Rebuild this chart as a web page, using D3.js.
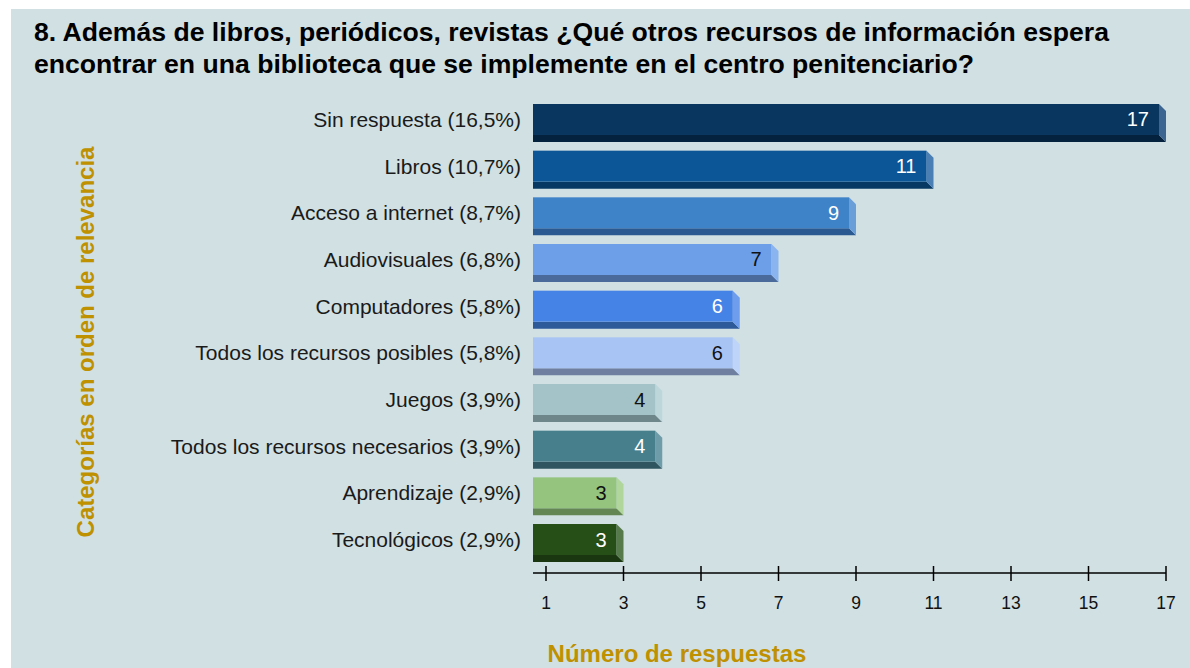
<!DOCTYPE html>
<html>
<head>
<meta charset="utf-8">
<script src="https://cdn.jsdelivr.net/npm/d3@7"></script>
<style>
  body { margin: 0; background: #fff; }
  text { font-family: "Liberation Sans", Arial, sans-serif; }
</style>
</head>
<body>
<div id="chart"></div>
<script>
// data
const categories = [
  'Sin respuesta (16,5%)',
  'Libros (10,7%)',
  'Acceso a internet (8,7%)',
  'Audiovisuales (6,8%)',
  'Computadores (5,8%)',
  'Todos los recursos posibles (5,8%)',
  'Juegos (3,9%)',
  'Todos los recursos necesarios (3,9%)',
  'Aprendizaje (2,9%)',
  'Tecnológicos (2,9%)'
];
const values = [17, 11, 9, 7, 6, 6, 4, 4, 3, 3];
const tickValues = [1, 3, 5, 7, 9, 11, 13, 15, 17];

// front / bottom / side colours and label colour per bar
const frontColors = ['#08365f', '#0c5597', '#3e82c8', '#6c9fe8', '#4683e6', '#a8c4f5', '#a3c3c9', '#477f8d', '#94c47e', '#264f17'];
const bottomColors = ['#04213d', '#073863', '#2a5890', '#4a6a9c', '#2f5a9a', '#6f7fa0', '#6e8589', '#2f5660', '#648554', '#1a3610'];
const sideColors = ['#3c6591', '#4a7fb5', '#6a9ed8', '#8ab4f0', '#6f9ded', '#bed4f8', '#bcd6da', '#6e9ca8', '#b0d69c', '#567a4a'];
const labelColors = ['#fff', '#fff', '#fff', '#111', '#fff', '#111', '#111', '#fff', '#111', '#fff'];

const W = 1190, H = 668;
const depth = 7;
const plotLeft = 533;

const svg = d3.select('#chart').append('svg')
  .attr('width', W)
  .attr('height', H);

svg.append('rect')
  .attr('x', 11).attr('y', 9)
  .attr('width', W - 11).attr('height', H - 9)
  .attr('fill', '#d0e0e3');

// title
const title = svg.append('text')
  .attr('font-size', 26.6)
  .attr('font-weight', 'bold')
  .attr('fill', '#000');
title.append('tspan').attr('x', 34).attr('y', 41)
  .text('8. Además de libros, periódicos, revistas ¿Qué otros recursos de información espera');
title.append('tspan').attr('x', 34).attr('y', 73)
  .text('encontrar en una biblioteca que se implemente en el centro penitenciario?');

const x = d3.scaleLinear().domain([1, 17]).range([546, 1166]);
const y = d3.scaleBand().domain(categories).range([104, 562]).paddingInner(0.186).paddingOuter(0);

const bars = svg.append('g').selectAll('g')
  .data(categories)
  .join('g');

bars.each(function (c, i) {
  const g = d3.select(this);
  const top = y(c);
  const h = y.bandwidth() - depth;
  const xe = x(values[i]) - depth;
  // bottom face
  g.append('path')
    .attr('d', `M${plotLeft},${top + h}L${xe},${top + h}L${xe + depth},${top + h + depth}L${plotLeft},${top + h + depth}Z`)
    .attr('fill', bottomColors[i]);
  // side face
  g.append('path')
    .attr('d', `M${xe},${top}L${xe + depth},${top + depth}L${xe + depth},${top + h + depth}L${xe},${top + h}Z`)
    .attr('fill', sideColors[i]);
  // front face
  g.append('rect')
    .attr('x', plotLeft).attr('y', top)
    .attr('width', xe - plotLeft).attr('height', h)
    .attr('fill', frontColors[i]);
  // value
  g.append('text')
    .attr('x', xe - 10)
    .attr('y', top + h / 2)
    .attr('dy', '0.35em')
    .attr('text-anchor', 'end')
    .attr('font-size', 20)
    .attr('fill', labelColors[i])
    .text(values[i]);
  // category label
  g.append('text')
    .attr('x', 521)
    .attr('y', top + h / 2)
    .attr('dy', '0.35em')
    .attr('text-anchor', 'end')
    .attr('font-size', 21)
    .attr('fill', '#1a1a1a')
    .text(c);
});

// x axis
const axisY = 573;
const axisG = svg.append('g').attr('transform', `translate(0,${axisY})`);
axisG.append('line')
  .attr('x1', plotLeft).attr('x2', x(17))
  .attr('stroke', '#000').attr('stroke-width', 1.5);
axisG.selectAll('line.tick')
  .data(tickValues)
  .join('line')
  .attr('class', 'tick')
  .attr('x1', d => x(d)).attr('x2', d => x(d))
  .attr('y1', -7).attr('y2', 8)
  .attr('stroke', '#000').attr('stroke-width', 1.5);
axisG.selectAll('text')
  .data(tickValues)
  .join('text')
  .attr('x', d => x(d))
  .attr('y', 30)
  .attr('dy', '0.35em')
  .attr('text-anchor', 'middle')
  .attr('font-size', 17.5)
  .attr('fill', '#111')
  .text(d => d);

// axis titles
svg.append('text')
  .attr('x', 677).attr('y', 654)
  .attr('dy', '0.35em')
  .attr('text-anchor', 'middle')
  .attr('font-size', 24)
  .attr('font-weight', 'bold')
  .attr('fill', '#bf9000')
  .text('Número de respuestas');

svg.append('text')
  .attr('transform', 'translate(86,342) rotate(-90)')
  .attr('dy', '0.35em')
  .attr('text-anchor', 'middle')
  .attr('font-size', 24)
  .attr('font-weight', 'bold')
  .attr('fill', '#bf9000')
  .text('Categorías en orden de relevancia');
</script>
</body>
</html>
